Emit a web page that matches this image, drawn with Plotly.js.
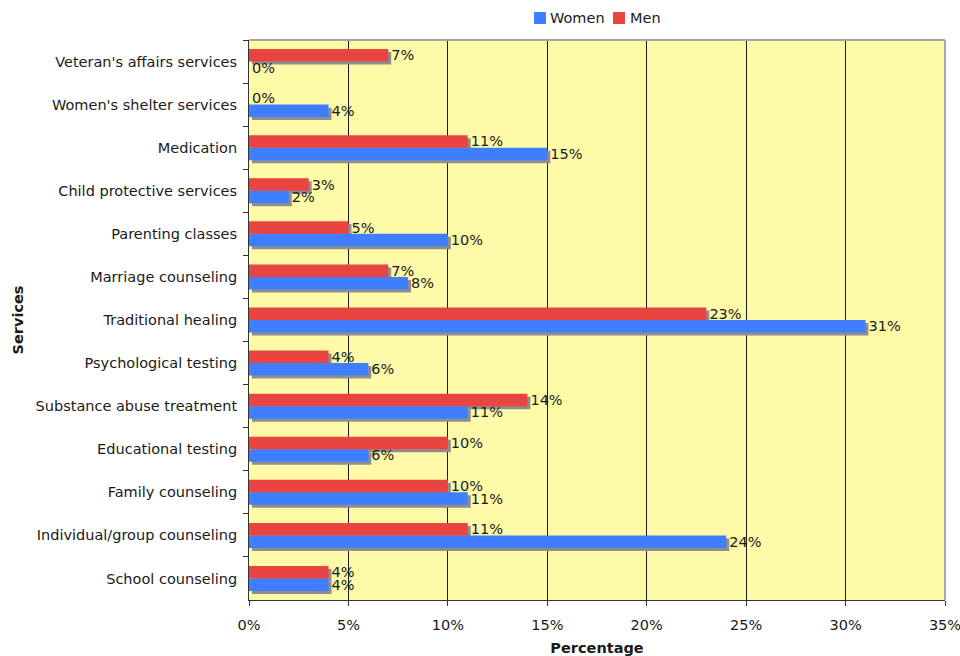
<!DOCTYPE html>
<html>
<head>
<meta charset="utf-8">
<script src="https://cdn.plot.ly/plotly-3.0.1.min.js"></script>
<style>
  html, body { margin: 0; padding: 0; background: #ffffff; }
  #chart { width: 960px; height: 656px; }
</style>
</head>
<body>
<div id="chart"></div>
<script>
// Services used, listed top to bottom
const services = [
  "Veteran's affairs services",
  "Women's shelter services",
  "Medication",
  "Child protective services",
  "Parenting classes",
  "Marriage counseling",
  "Traditional healing",
  "Psychological testing",
  "Substance abuse treatment",
  "Educational testing",
  "Family counseling",
  "Individual/group counseling",
  "School counseling"
];

// Percentage of respondents using each service
const women = [0, 4, 15, 2, 10, 8, 31, 6, 11, 6, 11, 24, 4];
const men   = [7, 0, 11, 3, 5, 7, 23, 4, 14, 10, 10, 11, 4];

const seriesNames = ["Women", "Men"];
const seriesColors = ["#3f7fff", "#e84440"];

const xTicks = [0, 5, 10, 15, 20, 25, 30, 35];

const BAR_W = 0.29;       // bar thickness in category units
const SHADOW_DY = 0.07;   // drop shadow shift (down)
const SHADOW_DX = 0.15;   // drop shadow shift (right), in percent
const FONT = "DejaVu Sans, Verdana, sans-serif";
const FS = 14.5;

// plot area in pixels, used to place the key above it
const PLOT = { l: 249, r: 945, t: 40, b: 600 };
const px2x = px => (px - PLOT.l) / (PLOT.r - PLOT.l);
const py2y = py => (PLOT.b - py) / (PLOT.b - PLOT.t);

const shadowStyle = { color: "#8e8e8e", line: { width: 0 } };

const traces = [
  {
    type: "bar", orientation: "h", y: services, x: men,
    base: SHADOW_DX, offset: -BAR_W + SHADOW_DY, width: BAR_W,
    marker: shadowStyle, showlegend: false, hoverinfo: "skip"
  },
  {
    type: "bar", orientation: "h", y: services, x: women,
    base: SHADOW_DX, offset: SHADOW_DY, width: BAR_W,
    marker: shadowStyle, showlegend: false, hoverinfo: "skip"
  },
  {
    type: "bar", orientation: "h", name: seriesNames[0], y: services, x: women,
    offset: 0, width: BAR_W,
    marker: { color: seriesColors[0], line: { width: 0 } },
    text: women.map(v => v + "%"), textposition: "outside",
    constraintext: "none", cliponaxis: false,
    textfont: { family: FONT, size: FS, color: "#1a1a1a" },
    hoverinfo: "skip", showlegend: false
  },
  {
    type: "bar", orientation: "h", name: seriesNames[1], y: services, x: men,
    offset: -BAR_W, width: BAR_W,
    marker: { color: seriesColors[1], line: { width: 0 } },
    text: men.map(v => v + "%"), textposition: "outside",
    constraintext: "none", cliponaxis: false,
    textfont: { family: FONT, size: FS, color: "#1a1a1a" },
    hoverinfo: "skip", showlegend: false
  }
];

// compact key above the plot: coloured square + series name
const keyItems = [
  { sq: 534, txt: 548 },
  { sq: 613, txt: 628 }
];
const keyShapes = keyItems.map((k, i) => ({
  type: "rect", xref: "paper", yref: "paper",
  x0: px2x(k.sq), x1: px2x(k.sq + 12), y0: py2y(24), y1: py2y(12),
  fillcolor: seriesColors[i], line: { width: 0 }
}));
const keyLabels = keyItems.map((k, i) => ({
  xref: "paper", yref: "paper", x: px2x(k.txt), y: py2y(18),
  xanchor: "left", yanchor: "middle", showarrow: false,
  text: seriesNames[i], font: { family: FONT, size: FS, color: "#1a1a1a" }
}));

const layout = {
  width: 960, height: 656,
  margin: { l: PLOT.l, r: 960 - PLOT.r, t: PLOT.t, b: 656 - PLOT.b },
  paper_bgcolor: "#ffffff",
  plot_bgcolor: "#fffaa8",
  barmode: "overlay",
  font: { family: FONT, size: FS, color: "#1a1a1a" },
  showlegend: false,
  xaxis: {
    range: [0, 35], tickvals: xTicks, ticktext: xTicks.map(v => v + "%"),
    showgrid: true, gridcolor: "#1a1a1a", gridwidth: 1,
    zeroline: false, showline: true, linecolor: "#333333", linewidth: 1,
    ticks: "outside", ticklen: 5, tickcolor: "#333333",
    ticklabelstandoff: 7, ticklabeloverflow: "allow", automargin: false,
    title: { text: "<b>Percentage</b>", font: { family: FONT, size: FS }, standoff: 10 },
    fixedrange: true
  },
  yaxis: {
    type: "category", autorange: "reversed",
    showline: true, linecolor: "#333333", linewidth: 1,
    ticks: "outside", ticklen: 5, tickcolor: "#333333", tickson: "boundaries",
    ticklabelstandoff: 8, ticklabeloverflow: "allow", automargin: false,
    showgrid: false, zeroline: false,
    title: { text: "<b>Services</b>", font: { family: FONT, size: FS }, standoff: 8 },
    fixedrange: true
  },
  shapes: [
    // light frame on the top and right edges of the plot area
    { type: "line", xref: "paper", yref: "paper", x0: 0, x1: 1, y0: 1, y1: 1,
      line: { color: "#a6a6a6", width: 2 } },
    { type: "line", xref: "paper", yref: "paper", x0: 1, x1: 1, y0: 0, y1: 1,
      line: { color: "#a6a6a6", width: 2 } }
  ].concat(keyShapes),
  annotations: keyLabels
};

Plotly.newPlot("chart", traces, layout, { staticPlot: true, displayModeBar: false });
</script>
</body>
</html>
